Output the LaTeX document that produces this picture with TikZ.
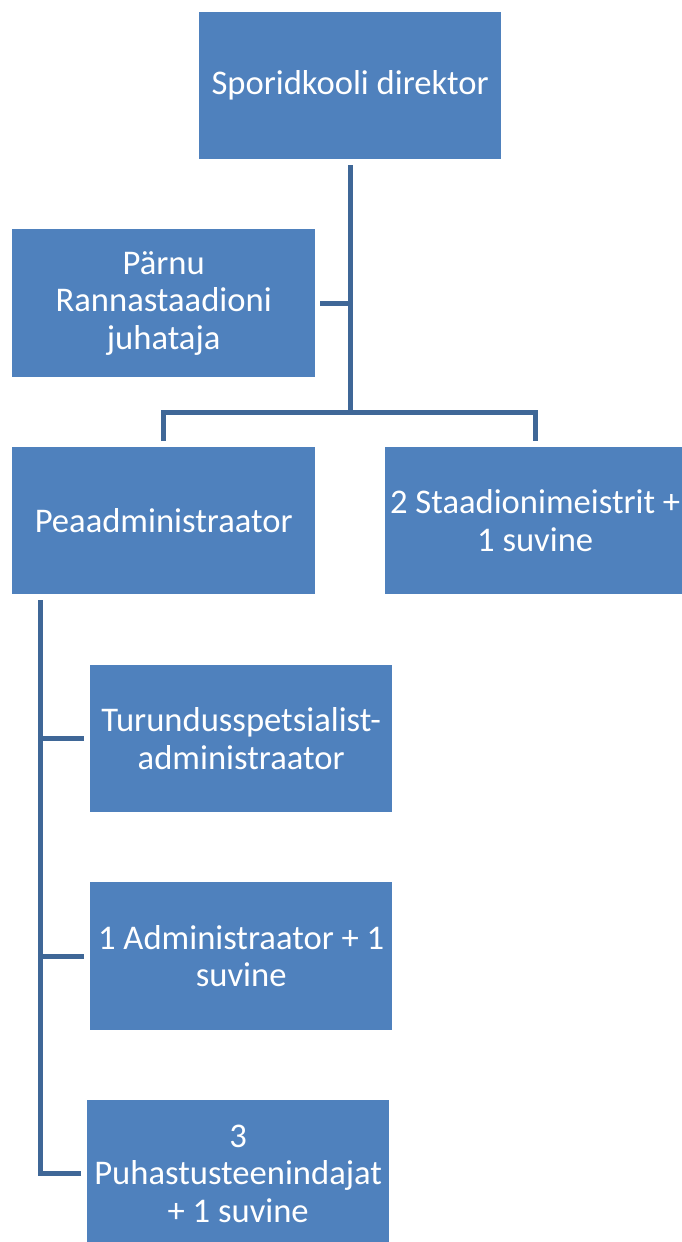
\documentclass[tikz,border=0pt]{standalone}
\usepackage{fontspec}
\setmainfont{Carlito}
\usetikzlibrary{calc}
\definecolor{boxblue}{HTML}{4F81BD}
\definecolor{linkblue}{HTML}{3F6797}
\begin{document}
\begin{tikzpicture}[x=1pt,y=-1pt,
  unit/.style={rectangle, fill=boxblue, draw=none, anchor=north west,
    inner sep=0pt, align=center, text=white,
    font=\fontsize{34.6}{37.6}\selectfont},
  conn/.style={draw=linkblue, line width=5pt, line join=miter}]
  \useasboundingbox (0,0) rectangle (682,1242);
  \clip (0,0) rectangle (682,1242);

  % boxes
  \node[unit, minimum width=302pt, minimum height=147pt] (dir) at (199,12)
    {Sporidkooli direktor};
  \node[unit, minimum width=303pt, minimum height=148pt] (parnu) at (12,229)
    {Pärnu\\Rannastaadioni\\juhataja};
  \node[unit, minimum width=303pt, minimum height=147pt] (peaadm) at (12,447)
    {Peaadministraator};
  \node[unit, minimum width=300pt, minimum height=147pt] (staad) at (385,447)
    {2 Staadionimeistrit +\\1 suvine};
  \node[unit, minimum width=302pt, minimum height=147pt] (tur) at (90,665)
    {Turundusspetsialist-\\administraator};
  \node[unit, minimum width=302pt, minimum height=148pt] (adm) at (90,882)
    {1 Administraator + 1\\suvine};
  \node[unit, minimum width=302pt, minimum height=147pt] (puh) at (87,1100)
    {3\\Puhastusteenindajat\\+ 1 suvine};

  % helper points for the connector lines
  \coordinate (bar) at (350,412);
  \coordinate (spine) at (40,600);

  % director branch
  \draw[conn] ([yshift=-6pt]dir.south) -- (dir.south |- bar);
  \draw[conn] ([xshift=5pt]parnu.east) -- (parnu.east -| dir.south);
  \draw[conn] ([yshift=6pt]peaadm.north) -- (peaadm.north |- bar)
    -- (staad.north |- bar) -- ([yshift=6pt]staad.north);

  % administrator branch
  \draw[conn] (spine) -- (spine |- puh.west) -- ([xshift=-6pt]puh.west);
  \draw[conn] (spine |- tur.west) -- ([xshift=-6pt]tur.west);
  \draw[conn] (spine |- adm.west) -- ([xshift=-6pt]adm.west);
\end{tikzpicture}
\end{document}
